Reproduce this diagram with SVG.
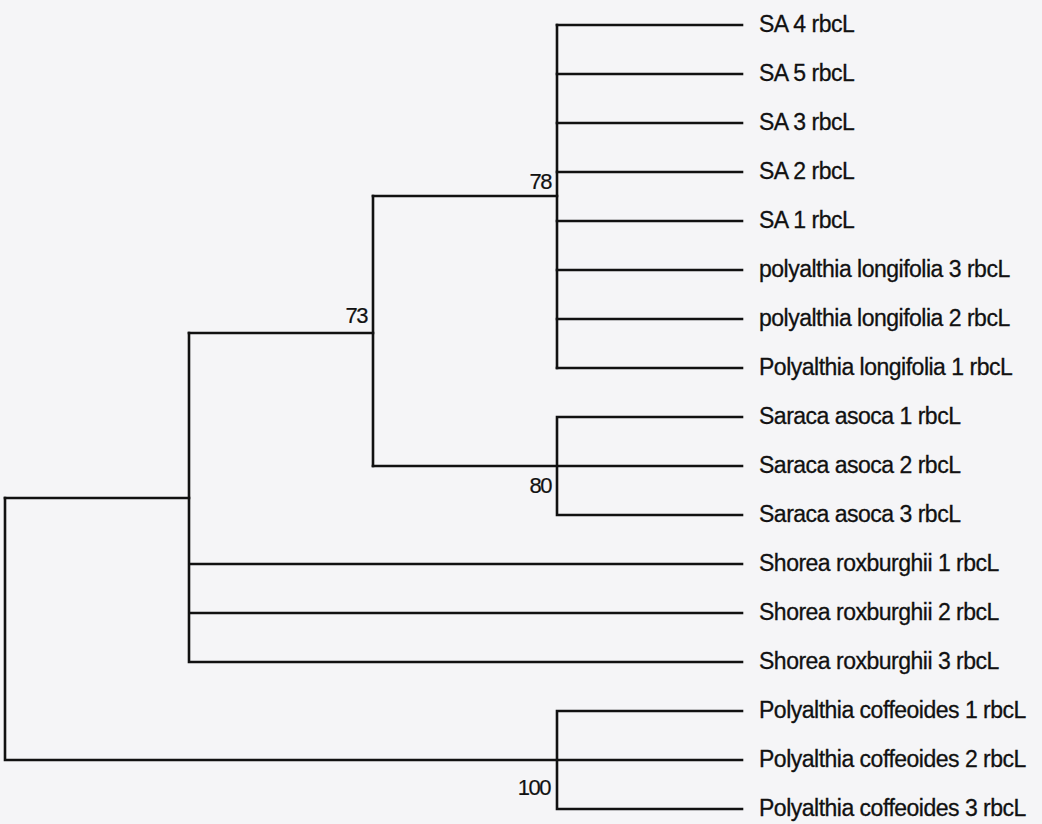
<svg xmlns="http://www.w3.org/2000/svg" width="1042" height="824" viewBox="0 0 1042 824">
<style>
.bg{fill:#f5f5f7}
.br{stroke:#111;stroke-width:2.6;fill:none;stroke-linecap:square}
.lb{font-family:"Liberation Sans",Arial,sans-serif;font-size:23px;fill:#111;stroke:#111;stroke-width:0.3;letter-spacing:-0.5px}
.bs{font-family:"Liberation Sans",Arial,sans-serif;font-size:22px;fill:#111;stroke:#111;stroke-width:0.2;text-anchor:end;letter-spacing:-1.5px}
</style>
<rect class="bg" x="0" y="0" width="1042" height="824"/>
<g id="connectors">
<path class="br" d="M557,25 V368"/>
<path class="br" d="M557,25 H742 M557,74 H742 M557,123 H742 M557,172 H742 M557,221 H742 M557,270 H742 M557,319 H742 M557,368 H742"/>
<path class="br" d="M373,196 H557"/>
<path class="br" d="M557,417 V515 M557,417 H742 M373,466 H742 M557,515 H742"/>
<path class="br" d="M373,196 V466"/>
<path class="br" d="M189,333 H373"/>
<path class="br" d="M189,333 V662 M189,564 H742 M189,613 H742 M189,662 H742"/>
<path class="br" d="M5,498 H189"/>
<path class="br" d="M5,498 V760 M5,760 H742"/>
<path class="br" d="M557,711 V809 M557,711 H742 M557,809 H742"/>
</g>
<g id="node78"><text class="bs" x="551" y="189">78</text></g>
<g id="node80"><text class="bs" x="551" y="493">80</text></g>
<g id="node73"><text class="bs" x="367" y="323">73</text></g>
<g id="node100"><text class="bs" x="550" y="795">100</text></g>
<g id="leaf-sa4"><text class="lb" x="759" y="32">SA 4 rbcL</text></g>
<g id="leaf-sa5"><text class="lb" x="759" y="81">SA 5 rbcL</text></g>
<g id="leaf-sa3"><text class="lb" x="759" y="130">SA 3 rbcL</text></g>
<g id="leaf-sa2"><text class="lb" x="759" y="179">SA 2 rbcL</text></g>
<g id="leaf-sa1"><text class="lb" x="759" y="228">SA 1 rbcL</text></g>
<g id="leaf-pl3"><text class="lb" x="759" y="277">polyalthia longifolia 3 rbcL</text></g>
<g id="leaf-pl2"><text class="lb" x="759" y="326">polyalthia longifolia 2 rbcL</text></g>
<g id="leaf-pl1"><text class="lb" x="759" y="375">Polyalthia longifolia 1 rbcL</text></g>
<g id="leaf-sas1"><text class="lb" x="759" y="424">Saraca asoca 1 rbcL</text></g>
<g id="leaf-sas2"><text class="lb" x="759" y="473">Saraca asoca 2 rbcL</text></g>
<g id="leaf-sas3"><text class="lb" x="759" y="522">Saraca asoca 3 rbcL</text></g>
<g id="leaf-sr1"><text class="lb" x="759" y="571">Shorea roxburghii 1 rbcL</text></g>
<g id="leaf-sr2"><text class="lb" x="759" y="620">Shorea roxburghii 2 rbcL</text></g>
<g id="leaf-sr3"><text class="lb" x="759" y="669">Shorea roxburghii 3 rbcL</text></g>
<g id="leaf-pc1"><text class="lb" x="759" y="718">Polyalthia coffeoides 1 rbcL</text></g>
<g id="leaf-pc2"><text class="lb" x="759" y="767">Polyalthia coffeoides 2 rbcL</text></g>
<g id="leaf-pc3"><text class="lb" x="759" y="816">Polyalthia coffeoides 3 rbcL</text></g>
</svg>
